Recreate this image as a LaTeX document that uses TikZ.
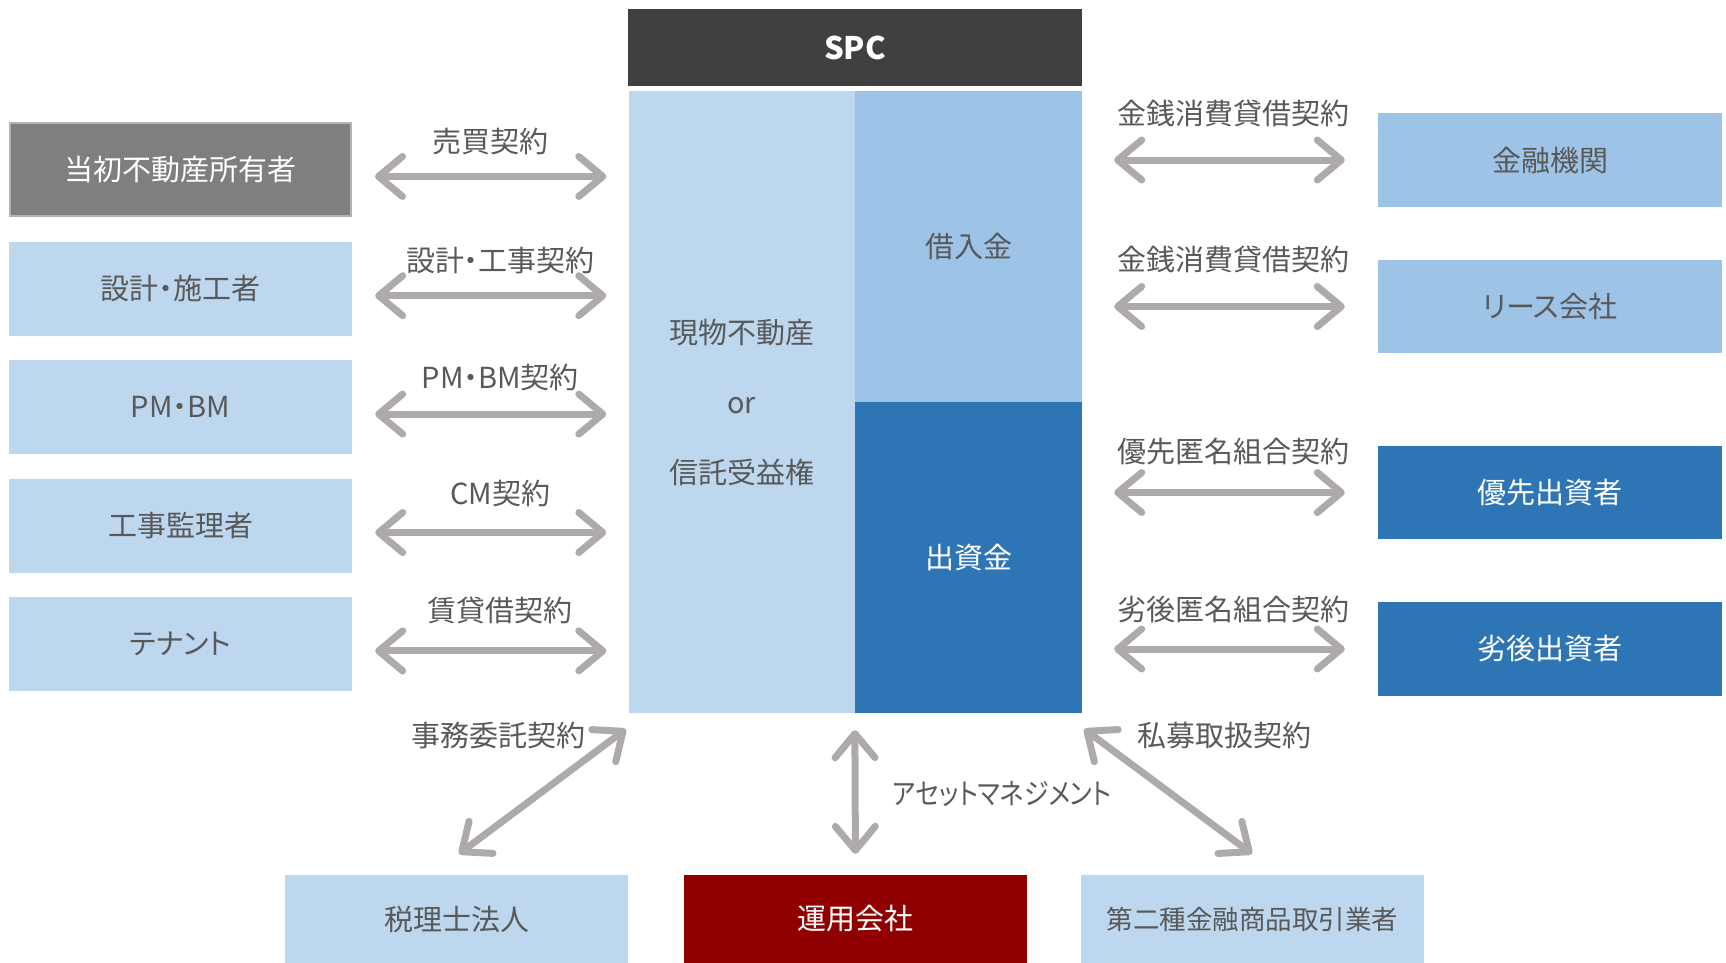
\documentclass[tikz,border=0pt]{standalone}
\usepackage{fontspec}
\setmainfont[RawFeature=+palt]{Noto Sans CJK JP}
\newfontfamily\narrowfont[RawFeature=+palt, FakeStretch=0.86]{Noto Sans CJK JP}
\usetikzlibrary{arrows.meta,positioning}
\definecolor{spcgray}{HTML}{404040}
\definecolor{ownergray}{HTML}{7F7F7F}
\definecolor{paleblue}{HTML}{BDD7EE}
\definecolor{midblue}{HTML}{9DC3E6}
\definecolor{deepblue}{HTML}{2E75B6}
\definecolor{darkred}{HTML}{900000}
\definecolor{arrowgray}{HTML}{AEAAAA}
\definecolor{textgray}{HTML}{595959}

\begin{document}
\begin{tikzpicture}[x=1pt, y=-1pt, node distance=25pt, inner sep=0pt]
\tikzstyle{box}=[rectangle, minimum width=343pt, minimum height=94pt, fill=paleblue, text=textgray, font=\fontsize{29}{34}\selectfont]
\tikzstyle{darkbox}=[box, fill=deepblue, text=white]
\tikzstyle{pair}=[{Straight Barb[length=24pt,width=40pt,round]}-{Straight Barb[length=24pt,width=40pt,round]}, draw=arrowgray, line width=7pt]
\tikzstyle{tag}=[text=textgray, font=\fontsize{29}{34}\selectfont]
\useasboundingbox (0,0) rectangle (1726,963);

% SPC in the middle
\node[fill=spcgray, text=white, minimum width=453.5pt, minimum height=77pt, font=\fontsize{31}{36}\selectfont\bfseries] (spc) at (855,47.5) {SPC};
\node[box, minimum width=226.5pt, minimum height=622pt, align=center, font=\fontsize{29}{70}\selectfont] (asset) at (741.75,402) {現物不動産\\or\\信託受益権};
\node[box, fill=midblue, minimum width=227pt, minimum height=311pt] (loan) at (968.5,246.5) {借入金};
\node[darkbox, minimum width=227pt, minimum height=311pt] (equity) at (968.5,557.5) {出資金};

% left side
\node[box, fill=ownergray, text=white, draw=black!30, line width=2pt, minimum width=341pt, minimum height=92pt] (owner) at (180.5,169.5) {当初不動産所有者};
\node[box, below=of owner] (builder) {設計・施工者};
\node[box, below=of builder, yshift=1pt] (pmbm) {PM・BM};
\node[box, below=of pmbm, yshift=1pt] (inspector) {工事監理者};
\node[box, below=of inspector, yshift=1pt] (tenant) {テナント};

\foreach \n/\t/\dx/\dy in {owner/売買契約/0/35, builder/設計・工事契約/10/35, pmbm/PM・BM契約/10/37, inspector/CM契約/10/39, tenant/賃貸借契約/10/40}
  \draw[pair, shorten <=23pt, shorten >=22pt] ([yshift=-7pt]\n.east) -- ([yshift=-7pt]\n.east -| asset.west)
    node[tag, midway, xshift=\dx pt, yshift=\dy pt] {\t};

% right side
\node[box, fill=midblue, minimum width=344pt] (bank) at (1550,160) {金融機関};
\node[box, fill=midblue, minimum width=344pt, minimum height=93pt] (lease) at (1550,306.5) {リース会社};
\node[darkbox, minimum width=344pt, minimum height=93pt] (senior) at (1550,492.5) {優先出資者};
\node[darkbox, minimum width=344pt] (junior) at (1550,649) {劣後出資者};

\foreach \n/\t/\dy in {bank/金銭消費貸借契約/47, lease/金銭消費貸借契約/47, senior/優先匿名組合契約/41, junior/劣後匿名組合契約/40}
  \draw[pair, shorten <=32pt, shorten >=33pt] (\n.west -| loan.east) -- (\n.west)
    node[tag, midway, xshift=3pt, yshift=\dy pt] {\t};

% bottom row
\node[box, minimum height=88pt] (tax) at (456.5,919) {税理士法人};
\node[box, fill=darkred, text=white, minimum height=88pt] (am) at (855.5,919) {運用会社};
\node[box, minimum height=88pt, font=\fontsize{26.5}{30}\selectfont] (dealer) at (1252.5,919) {第二種金融商品取引業者};

\draw[pair] ([shift={(-2.5,16)}]asset.south west) -- ([shift={(2.5,-21)}]tax.north)
  node[tag, pos=0, anchor=east, xshift=-37pt, yshift=-6pt] {事務委託契約};
\draw[pair, shorten <=17pt, shorten >=21pt] (equity.south west) -- (am.north)
  node[tag, midway, anchor=west, xshift=34pt, font=\fontsize{29}{34}\narrowfont] {アセットマネジメント};
\draw[pair] ([shift={(2,16)}]equity.south east) -- ([shift={(-0.5,-21)}]dealer.north)
  node[tag, pos=0, anchor=west, xshift=50pt, yshift=-6pt] {私募取扱契約};
\end{tikzpicture}
\end{document}
